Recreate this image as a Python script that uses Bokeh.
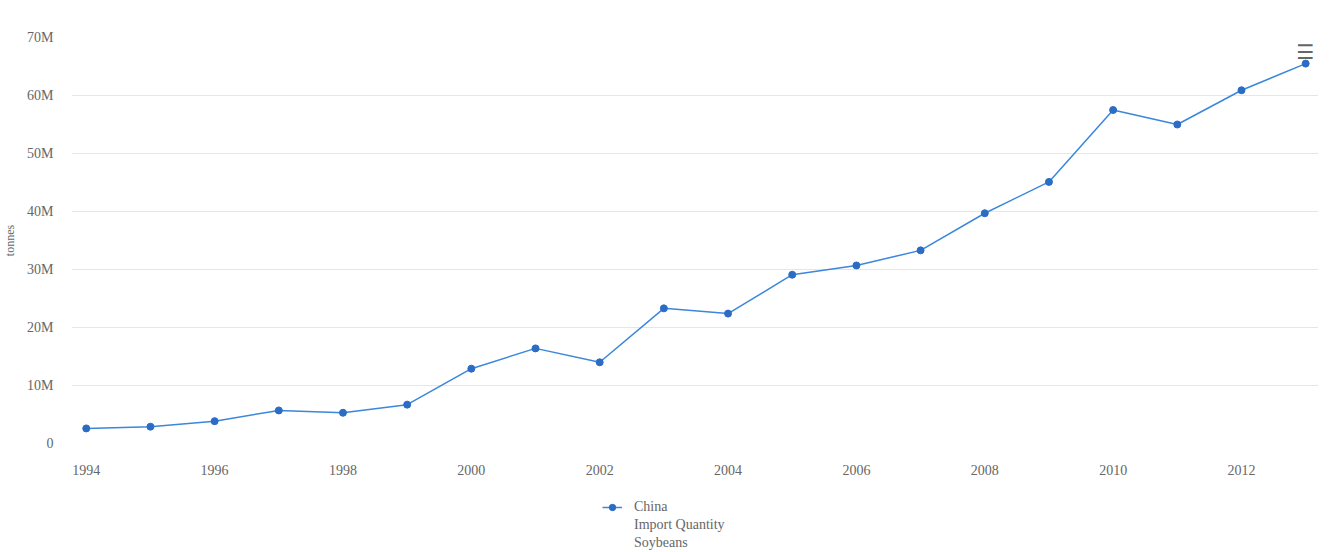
from bokeh.plotting import figure
from bokeh.layouts import column
from bokeh.models import (FixedTicker, CustomJSTickFormatter, Legend, LegendItem,
                          ColumnDataSource, Label)
from bokeh.embed import file_html
from bokeh.resources import INLINE

years = [1994, 1995, 1996, 1997, 1998, 1999, 2000, 2001, 2002, 2003,
         2004, 2005, 2006, 2007, 2008, 2009, 2010, 2011, 2012, 2013]
import_tonnes = [2.6e6, 2.9e6, 3.85e6, 5.7e6, 5.3e6, 6.7e6, 12.9e6, 16.4e6, 14.0e6, 23.3e6,
                 22.4e6, 29.1e6, 30.7e6, 33.3e6, 39.7e6, 45.1e6, 57.5e6, 55.0e6, 60.9e6, 65.5e6]
x_ticks = [1994, 1996, 1998, 2000, 2002, 2004, 2006, 2008, 2010, 2012]
y_ticks = [0, 10e6, 20e6, 30e6, 40e6, 50e6, 60e6, 70e6]
series_lines = ["China", "Import Quantity", "Soybeans"]
y_label = "tonnes"

FONT = "Liberation Serif"
LABEL_COLOR = "#666666"
LINE_COLOR = "#3a87dc"
MARKER_COLOR = "#2b6cc4"

src = ColumnDataSource(data=dict(year=years, value=import_tonnes))

p = figure(width=1318, height=480, output_backend="svg", toolbar_location=None,
           x_range=(1993.77, 2013.2), y_range=(0, 70e6),
           min_border_left=64, min_border_top=37, min_border_right=0,
           min_border_bottom=37)
p.outline_line_color = None
p.background_fill_color = "white"
p.border_fill_color = "white"

p.line("year", "value", source=src, line_color=LINE_COLOR, line_width=1.5)
p.scatter("year", "value", source=src, size=7, fill_color=MARKER_COLOR,
          line_color=MARKER_COLOR)

# axes
p.xaxis.ticker = FixedTicker(ticks=x_ticks)
p.xaxis.axis_line_color = None
p.xaxis.major_tick_line_color = None
p.xaxis.minor_tick_line_color = None
p.xaxis.major_label_text_font = FONT
p.xaxis.major_label_text_font_size = "14px"
p.xaxis.major_label_text_color = LABEL_COLOR
p.xaxis.major_label_standoff = 15

p.yaxis.ticker = FixedTicker(ticks=y_ticks)
p.yaxis.formatter = CustomJSTickFormatter(
    code="return tick == 0 ? '0' : (tick / 1e6).toFixed(0) + 'M';")
p.yaxis.axis_line_color = None
p.yaxis.major_tick_line_color = None
p.yaxis.minor_tick_line_color = None
p.yaxis.major_label_text_font = FONT
p.yaxis.major_label_text_font_size = "14px"
p.yaxis.major_label_text_color = LABEL_COLOR
p.yaxis.major_label_standoff = 12
p.yaxis.axis_label = y_label
p.yaxis.axis_label_text_font = FONT
p.yaxis.axis_label_text_font_size = "12px"
p.yaxis.axis_label_text_font_style = "normal"
p.yaxis.axis_label_text_color = LABEL_COLOR
p.yaxis.axis_label_standoff = 7

p.xgrid.grid_line_color = None
p.ygrid.grid_line_color = "#e6e6e6"
p.ygrid.grid_line_width = 1

# export-menu icon at the top right
p.add_layout(Label(x=1225, y=380, x_units="screen", y_units="screen", text="\u2630",
                   text_font="DejaVu Sans", text_font_size="20px",
                   text_color="#666666", text_baseline="bottom"))

# legend strip below the chart
p2 = figure(width=1318, height=72, output_backend="svg", toolbar_location=None,
            x_range=(0, 1), y_range=(0, 1), min_border=0)
p2.axis.visible = False
p2.grid.visible = False
p2.outline_line_color = None
p2.background_fill_color = "white"
p2.border_fill_color = "white"
src2 = ColumnDataSource(data=dict(year=years, value=import_tonnes))
ln2 = p2.line("year", "value", source=src2, line_color=LINE_COLOR, line_width=1.5)
sc2 = p2.scatter("year", "value", source=src2, size=7, fill_color=MARKER_COLOR,
                 line_color=MARKER_COLOR)
dummy = p2.line(x=[], y=[], line_alpha=0)

items = [LegendItem(label=series_lines[0], renderers=[ln2, sc2])]
for t in series_lines[1:]:
    items.append(LegendItem(label=t, renderers=[dummy]))
legend = Legend(items=items, location=(531, 1), orientation="vertical",
                label_text_font=FONT, label_text_font_size="14px",
                label_text_color=LABEL_COLOR, border_line_color=None,
                background_fill_alpha=0, glyph_width=20, glyph_height=16,
                label_height=16, spacing=2, margin=0, padding=0,
                label_standoff=12, click_policy="none")
p2.add_layout(legend)

layout = column(p, p2, spacing=0)
open("out.html", "w").write(file_html(layout, INLINE))
